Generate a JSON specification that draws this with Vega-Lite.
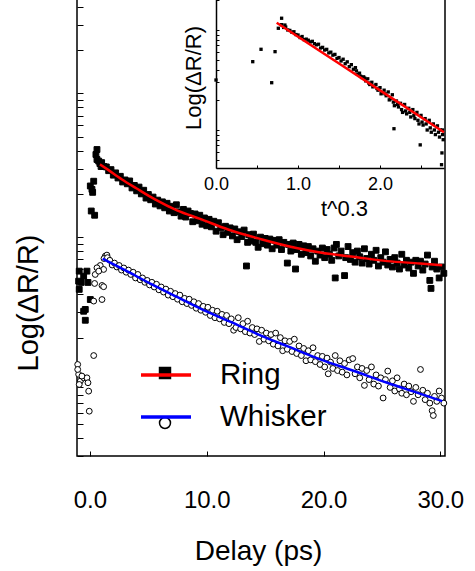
{
"$schema":"https://vega.github.io/schema/vega-lite/v6.json",
"autosize":{"type":"none"},
"width":368,"height":457,
"padding":{"left":77,"top":-1,"right":30,"bottom":115},
"background":"white",
"config":{"font":"Liberation Sans","view":{"stroke":"black","strokeWidth":1.5},
"axis":{"grid":false,"domainColor":"black","domainWidth":1.5,"tickColor":"black","tickWidth":1,"labelColor":"black","titleColor":"black","titleFontWeight":"normal","labelFont":"Liberation Sans","titleFont":"Liberation Sans","labelFlush":false,"labelOverlap":false},
"legend":{"labelFont":"Liberation Sans","labelColor":"black"}},
"datasets":{
"pts":[
{"x":-0.92,"y":5.8,"s":"Ring"},{"x":-0.54,"y":5.35,"s":"Ring"},{"x":-0.97,"y":4.94,"s":"Ring"},{"x":-0.75,"y":4.84,"s":"Ring"},{"x":-0.92,"y":4.33,"s":"Ring"},{"x":-0.26,"y":5.8,"s":"Ring"},{"x":-0.17,"y":4.84,"s":"Ring"},{"x":0.03,"y":3.68,"s":"Ring"},{"x":-0.54,"y":3.05,"s":"Ring"},{"x":-0.4,"y":3.14,"s":"Ring"},{"x":-0.4,"y":2.64,"s":"Ring"},{"x":0.11,"y":15.2,"s":"Ring"},{"x":0.4,"y":14.2,"s":"Ring"},{"x":0.17,"y":21.5,"s":"Ring"},{"x":0.03,"y":22.7,"s":"Ring"},{"x":0.23,"y":20.5,"s":"Ring"},{"x":0.32,"y":24.5,"s":"Ring"},{"x":0.6,"y":40.7,"s":"Ring"},{"x":0.51,"y":37.6,"s":"Ring"},{"x":0.6,"y":34.7,"s":"Ring"},{"x":0.75,"y":33.8,"s":"Ring"},{"x":0.85,"y":32.5,"s":"Ring"},{"x":0.95,"y":31.0,"s":"Ring"},
{"x":1.0,"y":33.0,"s":"Ring"},{"x":1.2,"y":31.0,"s":"Ring"},{"x":1.4,"y":30.8,"s":"Ring"},{"x":1.6,"y":29.0,"s":"Ring"},{"x":1.8,"y":29.5,"s":"Ring"},{"x":2.0,"y":27.0,"s":"Ring"},{"x":2.2,"y":28.0,"s":"Ring"},{"x":2.4,"y":25.8,"s":"Ring"},{"x":2.6,"y":26.5,"s":"Ring"},{"x":2.8,"y":24.2,"s":"Ring"},{"x":3.0,"y":25.0,"s":"Ring"},{"x":3.2,"y":23.5,"s":"Ring"},{"x":3.4,"y":24.6,"s":"Ring"},{"x":3.6,"y":22.0,"s":"Ring"},{"x":3.8,"y":22.9,"s":"Ring"},{"x":4.0,"y":21.0,"s":"Ring"},{"x":4.2,"y":22.3,"s":"Ring"},{"x":4.4,"y":20.0,"s":"Ring"},{"x":4.6,"y":21.2,"s":"Ring"},{"x":4.8,"y":18.7,"s":"Ring"},{"x":5.0,"y":19.8,"s":"Ring"},{"x":5.2,"y":18.2,"s":"Ring"},{"x":5.4,"y":19.0,"s":"Ring"},{"x":5.6,"y":17.0,"s":"Ring"},{"x":5.8,"y":18.1,"s":"Ring"},{"x":6.0,"y":16.5,"s":"Ring"},{"x":6.2,"y":17.6,"s":"Ring"},{"x":6.4,"y":16.0,"s":"Ring"},{"x":6.6,"y":17.2,"s":"Ring"},{"x":6.8,"y":15.2,"s":"Ring"},{"x":7.0,"y":16.4,"s":"Ring"},{"x":7.2,"y":14.8,"s":"Ring"},{"x":7.4,"y":16.8,"s":"Ring"},{"x":7.6,"y":15.0,"s":"Ring"},{"x":7.8,"y":14.0,"s":"Ring"},{"x":8.0,"y":15.6,"s":"Ring"},{"x":8.2,"y":13.8,"s":"Ring"},{"x":8.4,"y":15.2,"s":"Ring"},{"x":8.6,"y":14.6,"s":"Ring"},{"x":8.8,"y":12.8,"s":"Ring"},{"x":9.0,"y":14.5,"s":"Ring"},{"x":9.2,"y":13.0,"s":"Ring"},{"x":9.4,"y":14.2,"s":"Ring"},{"x":9.6,"y":12.3,"s":"Ring"},{"x":9.8,"y":13.6,"s":"Ring"},{"x":10.0,"y":12.0,"s":"Ring"},{"x":10.2,"y":13.3,"s":"Ring"},{"x":10.4,"y":11.8,"s":"Ring"},{"x":10.6,"y":12.9,"s":"Ring"},{"x":10.8,"y":11.0,"s":"Ring"},{"x":11.0,"y":12.6,"s":"Ring"},{"x":11.2,"y":11.6,"s":"Ring"},{"x":11.4,"y":10.4,"s":"Ring"},{"x":11.6,"y":11.9,"s":"Ring"},{"x":11.8,"y":10.8,"s":"Ring"},{"x":12.0,"y":11.6,"s":"Ring"},{"x":12.2,"y":10.2,"s":"Ring"},{"x":12.4,"y":11.4,"s":"Ring"},{"x":12.6,"y":9.6,"s":"Ring"},{"x":12.8,"y":10.9,"s":"Ring"},{"x":13.0,"y":10.1,"s":"Ring"},{"x":13.2,"y":11.2,"s":"Ring"},{"x":13.4,"y":6.3,"s":"Ring"},{"x":13.5,"y":9.2,"s":"Ring"},{"x":13.6,"y":10.4,"s":"Ring"},{"x":13.8,"y":9.4,"s":"Ring"},{"x":14.0,"y":10.5,"s":"Ring"},{"x":14.2,"y":9.2,"s":"Ring"},{"x":14.4,"y":8.5,"s":"Ring"},{"x":14.6,"y":10.0,"s":"Ring"},{"x":14.8,"y":9.0,"s":"Ring"},{"x":15.0,"y":9.8,"s":"Ring"},{"x":15.2,"y":8.8,"s":"Ring"},{"x":15.4,"y":9.7,"s":"Ring"},{"x":15.6,"y":8.3,"s":"Ring"},{"x":15.8,"y":9.5,"s":"Ring"},{"x":16.0,"y":8.8,"s":"Ring"},{"x":16.2,"y":9.6,"s":"Ring"},{"x":16.4,"y":8.2,"s":"Ring"},{"x":16.6,"y":9.2,"s":"Ring"},{"x":16.9,"y":6.6,"s":"Ring"},{"x":17.0,"y":8.9,"s":"Ring"},{"x":17.2,"y":8.0,"s":"Ring"},{"x":17.4,"y":9.1,"s":"Ring"},{"x":17.6,"y":6.0,"s":"Ring"},{"x":17.7,"y":8.2,"s":"Ring"},{"x":17.9,"y":8.9,"s":"Ring"},{"x":18.1,"y":7.6,"s":"Ring"},{"x":18.3,"y":8.7,"s":"Ring"},{"x":18.5,"y":7.8,"s":"Ring"},{"x":18.7,"y":8.6,"s":"Ring"},{"x":18.9,"y":7.4,"s":"Ring"},{"x":19.1,"y":8.3,"s":"Ring"},{"x":19.3,"y":6.8,"s":"Ring"},{"x":19.5,"y":8.0,"s":"Ring"},{"x":19.7,"y":7.5,"s":"Ring"},{"x":19.9,"y":8.4,"s":"Ring"},{"x":20.1,"y":7.2,"s":"Ring"},{"x":20.3,"y":8.2,"s":"Ring"},{"x":20.5,"y":7.6,"s":"Ring"},{"x":20.7,"y":6.9,"s":"Ring"},{"x":20.9,"y":8.4,"s":"Ring"},{"x":21.0,"y":5.2,"s":"Ring"},{"x":21.1,"y":8.9,"s":"Ring"},{"x":21.3,"y":7.4,"s":"Ring"},{"x":21.5,"y":8.0,"s":"Ring"},{"x":21.8,"y":5.4,"s":"Ring"},{"x":21.9,"y":7.2,"s":"Ring"},{"x":22.1,"y":8.6,"s":"Ring"},{"x":22.3,"y":7.0,"s":"Ring"},{"x":22.5,"y":7.8,"s":"Ring"},{"x":22.7,"y":6.7,"s":"Ring"},{"x":22.9,"y":8.0,"s":"Ring"},{"x":23.1,"y":7.3,"s":"Ring"},{"x":23.3,"y":6.6,"s":"Ring"},{"x":23.5,"y":8.3,"s":"Ring"},{"x":23.7,"y":7.1,"s":"Ring"},{"x":23.9,"y":6.5,"s":"Ring"},{"x":24.1,"y":7.6,"s":"Ring"},{"x":24.3,"y":6.9,"s":"Ring"},{"x":24.5,"y":8.1,"s":"Ring"},{"x":24.7,"y":6.3,"s":"Ring"},{"x":24.9,"y":7.2,"s":"Ring"},{"x":25.1,"y":6.7,"s":"Ring"},{"x":25.3,"y":7.9,"s":"Ring"},{"x":25.5,"y":6.4,"s":"Ring"},{"x":25.7,"y":7.0,"s":"Ring"},{"x":25.9,"y":6.2,"s":"Ring"},{"x":26.1,"y":7.2,"s":"Ring"},{"x":26.3,"y":6.6,"s":"Ring"},{"x":26.5,"y":6.0,"s":"Ring"},{"x":26.7,"y":7.6,"s":"Ring"},{"x":26.9,"y":6.4,"s":"Ring"},{"x":27.1,"y":6.9,"s":"Ring"},{"x":27.3,"y":6.1,"s":"Ring"},{"x":27.5,"y":6.7,"s":"Ring"},{"x":27.7,"y":5.6,"s":"Ring"},{"x":27.9,"y":6.9,"s":"Ring"},{"x":28.1,"y":6.3,"s":"Ring"},{"x":28.3,"y":6.8,"s":"Ring"},{"x":28.5,"y":5.9,"s":"Ring"},{"x":28.7,"y":6.5,"s":"Ring"},{"x":28.9,"y":7.5,"s":"Ring"},{"x":29.1,"y":5.0,"s":"Ring"},{"x":29.2,"y":4.4,"s":"Ring"},{"x":29.3,"y":6.2,"s":"Ring"},{"x":29.5,"y":6.8,"s":"Ring"},{"x":29.7,"y":6.0,"s":"Ring"},{"x":29.9,"y":5.2,"s":"Ring"},{"x":30.1,"y":6.2,"s":"Ring"},{"x":30.3,"y":5.6,"s":"Ring"},
{"x":1.31,"y":7.38,"s":"Whisker"},{"x":0.88,"y":6.35,"s":"Whisker"},{"x":0.6,"y":6.12,"s":"Whisker"},{"x":0.45,"y":5.5,"s":"Whisker"},{"x":1.17,"y":5.96,"s":"Whisker"},{"x":0.75,"y":5.8,"s":"Whisker"},{"x":0.4,"y":4.76,"s":"Whisker"},{"x":1.03,"y":4.61,"s":"Whisker"},{"x":1.17,"y":4.52,"s":"Whisker"},{"x":0.32,"y":3.59,"s":"Whisker"},{"x":1.03,"y":3.68,"s":"Whisker"},{"x":0.32,"y":1.5,"s":"Whisker"},{"x":-1.05,"y":1.3,"s":"Whisker"},{"x":-0.97,"y":1.11,"s":"Whisker"},{"x":-0.83,"y":0.995,"s":"Whisker"},{"x":-0.54,"y":1.05,"s":"Whisker"},{"x":-0.26,"y":1.05,"s":"Whisker"},{"x":-0.17,"y":0.97,"s":"Whisker"},{"x":-0.92,"y":0.944,"s":"Whisker"},{"x":-0.11,"y":0.848,"s":"Whisker"},{"x":-0.06,"y":0.615,"s":"Whisker"},{"x":-0.69,"y":1.08,"s":"Whisker"},{"x":-1.05,"y":1.2,"s":"Whisker"},{"x":1.45,"y":7.5,"s":"Whisker"},{"x":1.2,"y":7.1,"s":"Whisker"},
{"x":1.5,"y":7.2,"s":"Whisker"},{"x":1.7,"y":6.9,"s":"Whisker"},{"x":1.9,"y":6.4,"s":"Whisker"},{"x":2.1,"y":6.6,"s":"Whisker"},{"x":2.3,"y":6.2,"s":"Whisker"},{"x":2.5,"y":6.35,"s":"Whisker"},{"x":2.7,"y":5.9,"s":"Whisker"},{"x":2.9,"y":6.1,"s":"Whisker"},{"x":3.1,"y":5.7,"s":"Whisker"},{"x":3.3,"y":5.9,"s":"Whisker"},{"x":3.5,"y":5.5,"s":"Whisker"},{"x":3.7,"y":5.7,"s":"Whisker"},{"x":3.9,"y":5.2,"s":"Whisker"},{"x":4.1,"y":5.5,"s":"Whisker"},{"x":4.3,"y":5.05,"s":"Whisker"},{"x":4.5,"y":5.2,"s":"Whisker"},{"x":4.7,"y":4.85,"s":"Whisker"},{"x":4.9,"y":5.0,"s":"Whisker"},{"x":5.1,"y":4.65,"s":"Whisker"},{"x":5.3,"y":4.85,"s":"Whisker"},{"x":5.5,"y":4.5,"s":"Whisker"},{"x":5.7,"y":4.7,"s":"Whisker"},{"x":5.9,"y":4.3,"s":"Whisker"},{"x":6.1,"y":4.5,"s":"Whisker"},{"x":6.3,"y":4.15,"s":"Whisker"},{"x":6.5,"y":4.35,"s":"Whisker"},{"x":6.7,"y":3.95,"s":"Whisker"},{"x":6.9,"y":4.2,"s":"Whisker"},{"x":7.1,"y":3.85,"s":"Whisker"},{"x":7.3,"y":4.05,"s":"Whisker"},{"x":7.5,"y":3.7,"s":"Whisker"},{"x":7.7,"y":3.95,"s":"Whisker"},{"x":7.9,"y":3.55,"s":"Whisker"},{"x":8.1,"y":3.75,"s":"Whisker"},{"x":8.3,"y":3.45,"s":"Whisker"},{"x":8.5,"y":3.7,"s":"Whisker"},{"x":8.7,"y":3.35,"s":"Whisker"},{"x":8.9,"y":3.55,"s":"Whisker"},{"x":9.1,"y":3.2,"s":"Whisker"},{"x":9.3,"y":3.45,"s":"Whisker"},{"x":9.5,"y":3.1,"s":"Whisker"},{"x":9.7,"y":3.3,"s":"Whisker"},{"x":9.9,"y":3.0,"s":"Whisker"},{"x":10.1,"y":3.25,"s":"Whisker"},{"x":10.3,"y":2.85,"s":"Whisker"},{"x":10.5,"y":3.1,"s":"Whisker"},{"x":10.7,"y":2.75,"s":"Whisker"},{"x":10.9,"y":3.05,"s":"Whisker"},{"x":11.1,"y":2.7,"s":"Whisker"},{"x":11.3,"y":2.9,"s":"Whisker"},{"x":11.5,"y":2.55,"s":"Whisker"},{"x":11.7,"y":2.85,"s":"Whisker"},{"x":11.9,"y":2.5,"s":"Whisker"},{"x":12.1,"y":2.7,"s":"Whisker"},{"x":12.3,"y":2.25,"s":"Whisker"},{"x":12.5,"y":2.35,"s":"Whisker"},{"x":12.7,"y":2.75,"s":"Whisker"},{"x":12.9,"y":2.3,"s":"Whisker"},{"x":13.1,"y":2.5,"s":"Whisker"},{"x":13.3,"y":2.2,"s":"Whisker"},{"x":13.5,"y":2.6,"s":"Whisker"},{"x":13.7,"y":2.15,"s":"Whisker"},{"x":13.9,"y":2.35,"s":"Whisker"},{"x":14.1,"y":2.1,"s":"Whisker"},{"x":14.3,"y":2.3,"s":"Whisker"},{"x":14.5,"y":1.88,"s":"Whisker"},{"x":14.7,"y":2.25,"s":"Whisker"},{"x":14.9,"y":1.95,"s":"Whisker"},{"x":15.1,"y":2.15,"s":"Whisker"},{"x":15.3,"y":1.9,"s":"Whisker"},{"x":15.5,"y":2.1,"s":"Whisker"},{"x":15.7,"y":1.8,"s":"Whisker"},{"x":15.9,"y":2.15,"s":"Whisker"},{"x":16.1,"y":1.75,"s":"Whisker"},{"x":16.3,"y":2.0,"s":"Whisker"},{"x":16.5,"y":1.62,"s":"Whisker"},{"x":16.7,"y":1.9,"s":"Whisker"},{"x":16.9,"y":1.66,"s":"Whisker"},{"x":17.1,"y":1.88,"s":"Whisker"},{"x":17.3,"y":1.6,"s":"Whisker"},{"x":17.5,"y":1.95,"s":"Whisker"},{"x":17.7,"y":1.55,"s":"Whisker"},{"x":17.9,"y":1.75,"s":"Whisker"},{"x":18.1,"y":1.5,"s":"Whisker"},{"x":18.3,"y":1.68,"s":"Whisker"},{"x":18.5,"y":1.38,"s":"Whisker"},{"x":18.7,"y":1.62,"s":"Whisker"},{"x":18.9,"y":1.4,"s":"Whisker"},{"x":19.1,"y":1.7,"s":"Whisker"},{"x":19.3,"y":1.36,"s":"Whisker"},{"x":19.5,"y":1.5,"s":"Whisker"},{"x":19.7,"y":1.3,"s":"Whisker"},{"x":19.9,"y":1.48,"s":"Whisker"},{"x":20.1,"y":1.25,"s":"Whisker"},{"x":20.3,"y":1.44,"s":"Whisker"},{"x":20.4,"y":1.12,"s":"Whisker"},{"x":20.6,"y":1.35,"s":"Whisker"},{"x":20.8,"y":1.22,"s":"Whisker"},{"x":21.0,"y":1.5,"s":"Whisker"},{"x":21.2,"y":1.18,"s":"Whisker"},{"x":21.4,"y":1.38,"s":"Whisker"},{"x":21.6,"y":1.15,"s":"Whisker"},{"x":21.8,"y":1.32,"s":"Whisker"},{"x":22.0,"y":1.1,"s":"Whisker"},{"x":22.2,"y":1.4,"s":"Whisker"},{"x":22.5,"y":1.43,"s":"Whisker"},{"x":22.7,"y":1.12,"s":"Whisker"},{"x":22.9,"y":1.25,"s":"Whisker"},{"x":23.1,"y":1.05,"s":"Whisker"},{"x":23.3,"y":1.22,"s":"Whisker"},{"x":23.5,"y":0.93,"s":"Whisker"},{"x":23.7,"y":1.18,"s":"Whisker"},{"x":23.9,"y":1.02,"s":"Whisker"},{"x":24.1,"y":1.25,"s":"Whisker"},{"x":24.3,"y":0.95,"s":"Whisker"},{"x":24.5,"y":1.1,"s":"Whisker"},{"x":24.7,"y":0.92,"s":"Whisker"},{"x":24.9,"y":1.05,"s":"Whisker"},{"x":25.1,"y":0.76,"s":"Whisker"},{"x":25.3,"y":1.02,"s":"Whisker"},{"x":25.5,"y":1.17,"s":"Whisker"},{"x":25.7,"y":0.9,"s":"Whisker"},{"x":25.9,"y":1.0,"s":"Whisker"},{"x":26.1,"y":0.85,"s":"Whisker"},{"x":26.3,"y":1.05,"s":"Whisker"},{"x":26.5,"y":0.88,"s":"Whisker"},{"x":26.7,"y":0.82,"s":"Whisker"},{"x":26.9,"y":0.95,"s":"Whisker"},{"x":27.1,"y":0.8,"s":"Whisker"},{"x":27.3,"y":0.92,"s":"Whisker"},{"x":27.5,"y":0.84,"s":"Whisker"},{"x":27.7,"y":0.72,"s":"Whisker"},{"x":27.9,"y":0.9,"s":"Whisker"},{"x":28.1,"y":0.8,"s":"Whisker"},{"x":28.3,"y":1.2,"s":"Whisker"},{"x":28.5,"y":0.86,"s":"Whisker"},{"x":28.7,"y":0.74,"s":"Whisker"},{"x":28.9,"y":0.82,"s":"Whisker"},{"x":29.1,"y":0.7,"s":"Whisker"},{"x":29.3,"y":0.62,"s":"Whisker"},{"x":29.4,"y":0.574,"s":"Whisker"},{"x":29.5,"y":0.78,"s":"Whisker"},{"x":29.7,"y":0.72,"s":"Whisker"},{"x":29.9,"y":0.85,"s":"Whisker"},{"x":30.1,"y":0.76,"s":"Whisker"},{"x":30.3,"y":0.7,"s":"Whisker"}
],
"fits":[
{"x":0.86,"y":32.1,"f":"Ring"},{"x":1.5,"y":29.6,"f":"Ring"},{"x":2.74,"y":25.2,"f":"Ring"},{"x":4.0,"y":21.8,"f":"Ring"},{"x":5.57,"y":18.3,"f":"Ring"},{"x":7.5,"y":15.3,"f":"Ring"},{"x":9.43,"y":13.4,"f":"Ring"},{"x":11.83,"y":11.3,"f":"Ring"},{"x":14.74,"y":9.64,"f":"Ring"},{"x":17.57,"y":8.44,"f":"Ring"},{"x":19.97,"y":7.76,"f":"Ring"},{"x":22.54,"y":7.31,"f":"Ring"},{"x":25.45,"y":6.81,"f":"Ring"},{"x":28.28,"y":6.56,"f":"Ring"},{"x":30.16,"y":6.38,"f":"Ring"},
{"x":1.09,"y":7.08,"f":"Whisker"},{"x":3.0,"y":5.89,"f":"Whisker"},{"x":5.31,"y":4.69,"f":"Whisker"},{"x":7.5,"y":3.82,"f":"Whisker"},{"x":9.6,"y":3.14,"f":"Whisker"},{"x":12.0,"y":2.58,"f":"Whisker"},{"x":14.74,"y":2.05,"f":"Whisker"},{"x":17.0,"y":1.73,"f":"Whisker"},{"x":19.71,"y":1.41,"f":"Whisker"},{"x":22.5,"y":1.18,"f":"Whisker"},{"x":25.45,"y":0.97,"f":"Whisker"},{"x":28.0,"y":0.828,"f":"Whisker"},{"x":30.16,"y":0.723,"f":"Whisker"}
],
"ins":[
{"x":0.0,"y":3.16},{"x":0.448,"y":4.82},{"x":0.549,"y":6.41},{"x":0.679,"y":2.97},{"x":0.72,"y":6.07},{"x":0.80,"y":13.1},{"x":0.76,"y":10.4},{"x":0.84,"y":11.2},
{"x":0.8,"y":11.3},{"x":0.825,"y":10.6},{"x":0.85,"y":10.7},{"x":0.875,"y":10.0},{"x":0.9,"y":9.9},{"x":0.925,"y":9.5},{"x":0.95,"y":9.6},{"x":0.975,"y":9.0},{"x":1.0,"y":8.9},{"x":1.025,"y":8.4},{"x":1.05,"y":8.6},{"x":1.075,"y":8.0},{"x":1.1,"y":8.1},{"x":1.125,"y":7.9},{"x":1.15,"y":7.6},{"x":1.175,"y":7.7},{"x":1.2,"y":7.3},{"x":1.225,"y":7.1},{"x":1.25,"y":7.2},{"x":1.275,"y":6.6},{"x":1.3,"y":6.7},{"x":1.325,"y":6.3},{"x":1.35,"y":6.4},{"x":1.375,"y":5.9},{"x":1.4,"y":6.0},{"x":1.425,"y":5.6},{"x":1.45,"y":5.7},{"x":1.475,"y":5.2},{"x":1.5,"y":5.3},{"x":1.525,"y":4.9},{"x":1.55,"y":5.1},{"x":1.575,"y":4.6},{"x":1.6,"y":4.8},{"x":1.625,"y":4.3},{"x":1.65,"y":4.5},{"x":1.675,"y":4.05},{"x":1.7,"y":4.2},{"x":1.725,"y":3.6},{"x":1.75,"y":3.7},{"x":1.775,"y":3.35},{"x":1.8,"y":3.4},{"x":1.825,"y":3.1},{"x":1.85,"y":3.25},{"x":1.875,"y":2.85},{"x":1.9,"y":3.0},{"x":1.925,"y":2.75},{"x":1.95,"y":2.85},{"x":1.975,"y":2.5},{"x":2.0,"y":2.65},{"x":2.025,"y":2.35},{"x":2.05,"y":2.5},{"x":2.075,"y":2.2},{"x":2.1,"y":2.4},{"x":2.125,"y":2.05},{"x":2.15,"y":2.25},{"x":2.17,"y":1.03},{"x":2.175,"y":1.75},{"x":2.2,"y":1.95},{"x":2.225,"y":1.7},{"x":2.25,"y":1.85},{"x":2.275,"y":1.5},{"x":2.3,"y":1.8},{"x":2.325,"y":1.45},{"x":2.35,"y":1.65},{"x":2.375,"y":1.35},{"x":2.4,"y":1.6},{"x":2.425,"y":1.3},{"x":2.45,"y":1.5},{"x":2.475,"y":1.15},{"x":2.49,"y":0.71},{"x":2.5,"y":1.4},{"x":2.525,"y":1.12},{"x":2.55,"y":1.3},{"x":2.575,"y":1.0},{"x":2.6,"y":1.25},{"x":2.625,"y":0.95},{"x":2.65,"y":1.15},{"x":2.675,"y":0.9},{"x":2.7,"y":1.1},{"x":2.725,"y":0.85},{"x":2.75,"y":0.45},{"x":2.755,"y":0.59},{"x":2.76,"y":1.0},{"x":2.77,"y":0.8},
{"x":1.7125,"y":3.9},{"x":1.7625,"y":3.45},{"x":1.8125,"y":3.3},{"x":1.8625,"y":2.95},{"x":1.9125,"y":2.7},{"x":1.9625,"y":2.6},{"x":2.0125,"y":2.3},{"x":2.0625,"y":2.3},{"x":2.1125,"y":2.0},{"x":2.1625,"y":1.9},{"x":2.2125,"y":1.8},{"x":2.2625,"y":1.6},{"x":2.3125,"y":1.55},{"x":2.3625,"y":1.5},{"x":2.4125,"y":1.4},{"x":2.4625,"y":1.25},{"x":2.5125,"y":1.2},{"x":2.5625,"y":1.15},{"x":2.6125,"y":1.05},{"x":2.6625,"y":1.0},{"x":2.7125,"y":0.95},{"x":2.7375,"y":1.0},{"x":2.7625,"y":0.9}
],
"insfit":[{"x":0.74,"y":11.8},{"x":1.5,"y":4.62},{"x":2.0,"y":2.49},{"x":2.78,"y":0.95}]
},
"layer":[
{"layer":[
{"data":{"name":"pts"},
"mark":{"type":"point","filled":true,"size":34,"stroke":"black","strokeWidth":1,"opacity":1},
"encoding":{
"x":{"field":"x","type":"quantitative","scale":{"domain":[-1.11,30.4],"nice":false,"zero":false},
"axis":{"orient":"bottom","domain":false,"values":[0,10,20,30],"format":".1f","tickSize":-5,"labelPadding":37,"labelFontSize":24,"title":"Delay (ps)","titleFontSize":28,"titleX":181,"titleY":103,"titleBaseline":"alphabetic","titleAlign":"center"}},
"y":{"field":"y","type":"quantitative","scale":{"type":"log","domain":[0.3,454],"nice":false},
"axis":{"orient":"left","domain":false,"labels":false,"values":[0.3,0.4,0.5,0.6,0.7,0.8,0.9,1,2,3,4,5,6,7,8,9,10,20,30,40,50,60,70,80,90,100,200,300,400],"tickSize":-6,"title":"Log(ΔR/R)","titleFontSize":29,"titleAngle":270,"titleBaseline":"alphabetic","titleAlign":"center","titleX":-40,"titleY":303.5,
"encode":{"ticks":{"update":{"x2":{"signal":"(datum.value == 1 || datum.value == 10 || datum.value == 100) ? 11 : 6"}}}}}},
"shape":{"field":"s","type":"nominal","scale":{"range":["square","circle"]},
"legend":{"orient":"none","legendX":74,"legendY":360,"title":null,"symbolSize":120,"labelFontSize":28,"labelExpr":"''","rowPadding":22,"padding":0,
"encode":{"symbols":{"update":{"fill":{"signal":"datum.value === 'Ring' ? 'black' : 'white'"},"stroke":{"value":"black"},"strokeWidth":{"value":1.5},"opacity":{"value":1}}}}}},
"fill":{"field":"s","type":"nominal","scale":{"range":["black","white"]},"legend":null}
}},
{"data":{"name":"fits"},
"mark":{"type":"line","strokeWidth":2.5,"interpolate":"monotone"},
"encoding":{
"x":{"field":"x","type":"quantitative"},
"y":{"field":"y","type":"quantitative"},
"color":{"field":"f","type":"nominal","scale":{"domain":["Ring","Whisker"],"range":["#ff0000","#0000ff"]},
"legend":{"orient":"none","legendX":62,"legendY":349,"title":null,"symbolType":"stroke","symbolSize":2500,"symbolStrokeWidth":3.5,"labelFontSize":29.5,"labelOffset":27,"rowPadding":0,"padding":0}}
}}
]},
{"layer":[
{"data":{"name":"ins"},
"mark":{"type":"square","size":11,"color":"black","opacity":1},
"encoding":{
"x":{"field":"x","type":"quantitative","scale":{"domain":[0,2.78],"range":[139,367],"nice":false,"zero":false},
"axis":{"orient":"bottom","offset":-288,"domain":true,"values":[0,0.25,0.5,0.75,1,1.25,1.5,1.75,2,2.25,2.5,2.75],"labelExpr":"datum.value % 1 === 0 ? format(datum.value, '.1f') : ''","tickSize":-3,"labelPadding":10,"labelFontSize":18,"title":"t^0.3","titleFontSize":22,"titleX":267,"titleY":47,"titleBaseline":"alphabetic","titleAlign":"center"}},
"y":{"field":"y","type":"quantitative","scale":{"type":"log","domain":[0.417,20.4],"range":[169,0],"nice":false},
"axis":{"orient":"left","offset":-139,"domain":true,"labels":false,"values":[0.5,0.6,0.7,0.8,0.9,1,2,3,4,5,6,7,8,9,10,20],"tickSize":-3,"title":"Log(ΔR/R)","titleFontSize":22,"titleAngle":270,"titleBaseline":"alphabetic","titleAlign":"center","titleX":-16,"titleY":78.5,
"encode":{"ticks":{"update":{"x2":{"signal":"(datum.value == 1 || datum.value == 10) ? 5 : 3"}}}}}}
}},
{"data":{"name":"insfit"},
"mark":{"type":"line","color":"#ff0000","strokeWidth":2.5},
"encoding":{"x":{"field":"x","type":"quantitative"},"y":{"field":"y","type":"quantitative"}}}
]}
],
"resolve":{"scale":{"x":"independent","y":"independent"},"axis":{"x":"independent","y":"independent"}}
}
